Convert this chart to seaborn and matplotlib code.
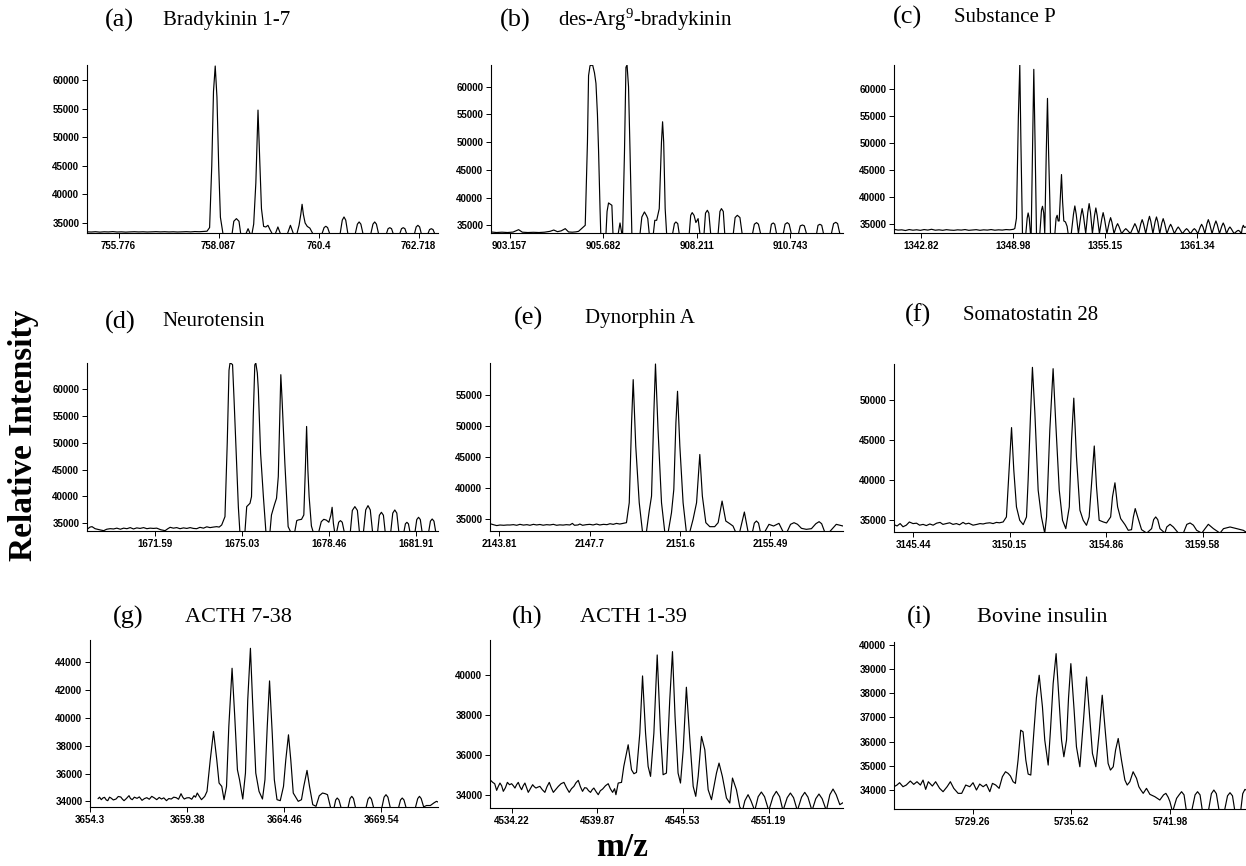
import matplotlib
matplotlib.use("Agg")
import matplotlib.pyplot as plt
import pandas as pd
import seaborn as sns

# ---------------- data (m/z, relative intensity) ----------------
trace_a = [(755.04,33450),(755.14,33420),(755.24,33470),(755.34,33400),(755.44,33460),(755.54,33430),
    (755.64,33490),(755.74,33420),(755.84,33450),(755.94,33400),(756.04,33440),(756.14,33470),(756.24,33430),
    (756.34,33460),(756.44,33420),(756.54,33450),(756.64,33480),(756.74,33440),(756.84,33470),(756.94,33430),
    (757.04,33460),(757.14,33420),(757.24,33450),(757.34,33480),(757.44,33440),(757.54,33500),(757.64,33470),
    (757.74,33520),(757.82,33560),
    (757.88,34200),(757.93,45000),(757.97,58000),(758.01,62450),(758.05,57000),(758.09,45000),(758.13,36000),(758.19,33100),
    (758.40,33100),(758.44,35300),(758.50,35760),(758.56,35300),(758.60,33100),
    (758.72,33100),(758.77,34000),(758.82,33100),
    (758.86,33100),(758.90,34800),(758.95,42000),(759.00,54740),(759.04,46000),(759.08,37500),(759.13,34400),
    (759.18,34300),(759.23,34590),(759.28,33800),(759.33,33100),
    (759.40,33100),(759.46,34300),(759.52,33100),
    (759.68,33100),(759.75,34590),(759.82,33100),
    (759.90,33100),(759.95,34600),(759.99,36500),(760.02,38270),(760.05,36500),(760.09,35000),(760.14,34400),(760.20,34100),(760.27,33100),
    (760.48,33100),(760.53,34200),(760.57,34420),(760.61,34200),(760.66,33100),
    (760.90,33100),(760.95,35500),(760.99,36050),(761.03,35500),(761.08,33100),
    (761.25,33100),(761.30,34800),(761.34,35180),(761.38,34800),(761.43,33100),
    (761.61,33100),(761.66,34800),(761.70,35180),(761.74,34800),(761.79,33100),
    (761.97,33100),(762.01,34000),(762.05,34180),(762.09,34000),(762.13,33100),
    (762.28,33100),(762.32,34000),(762.36,34180),(762.40,34000),(762.44,33100),
    (762.62,33100),(762.66,34300),(762.70,34590),(762.74,34300),(762.78,33100),
    (762.93,33100),(762.97,33850),(763.01,34000),(763.05,33850),(763.09,33100)]

trace_b = [(902.66,33800),(902.80,33700),(902.95,33760),(903.10,33700),(903.25,33780),(903.40,34217),(903.50,33760),
    (903.65,33700),(903.80,33740),(903.95,33700),(904.10,33760),(904.25,33916),(904.35,34150),(904.45,33850),
    (904.55,34000),(904.66,34398),(904.75,33800),(904.85,33760),(904.95,33820),(905.02,33916),(905.10,34400),(905.20,35000),
    (905.26,50000),(905.29,62000),(905.33,63800),(905.40,63915),(905.45,62500),(905.49,60600),(905.53,55000),(905.56,48550),(905.60,38000),(905.62,33450),
    (905.76,33450),(905.79,37500),(905.83,39036),(905.88,38800),(905.92,38614),(905.95,33450),
    (906.09,33450),(906.14,35422),(906.19,33450),
    (906.21,33450),(906.26,48000),(906.30,63500),(906.33,63915),(906.37,60000),(906.41,48554),(906.46,33450),
    (906.68,33450),(906.73,36500),(906.80,37410),(906.86,36700),(906.89,36205),(906.93,33450),
    (907.04,33450),(907.08,35904),(907.13,35904),(907.20,38000),(907.26,50000),(907.29,53674),(907.32,50000),(907.36,38000),(907.40,33450),
    (907.56,33450),(907.61,35300),(907.65,35602),(907.70,35300),(907.74,33450),
    (908.01,33450),(908.05,36800),(908.09,37289),(908.14,36800),(908.19,35500),(908.25,36205),(908.30,33450),
    (908.41,33450),(908.45,37200),(908.50,37711),(908.54,37200),(908.59,33450),
    (908.79,33450),(908.84,37500),(908.88,38012),(908.93,37500),(908.97,33450),
    (909.20,33450),(909.25,36400),(909.31,36807),(909.38,36400),(909.44,33450),
    (909.72,33450),(909.77,35200),(909.83,35482),(909.88,35200),(909.94,33450),
    (910.19,33450),(910.23,35200),(910.28,35422),(910.32,35200),(910.37,33450),
    (910.55,33450),(910.60,35200),(910.66,35482),(910.71,35200),(910.77,33450),
    (910.96,33450),(911.01,34900),(911.07,35060),(911.12,34900),(911.18,33450),
    (911.45,33450),(911.49,35000),(911.54,35181),(911.59,35000),(911.64,33450),
    (911.85,33450),(911.91,35300),(911.97,35542),(912.02,35300),(912.08,33450),(912.16,33450)]

trace_c = [(1340.98,33943),(1341.25,33800),(1341.50,33850),(1341.75,33720),(1342.00,33900),(1342.25,33780),
    (1342.50,33860),(1342.75,33750),(1343.00,33900),(1343.25,33800),(1343.50,33950),(1343.75,33780),(1344.00,33850),
    (1344.25,33760),(1344.50,33880),(1344.75,33800),(1345.00,33760),(1345.25,33850),(1345.50,33800),(1345.75,33900),
    (1346.00,33760),(1346.25,33820),(1346.50,33880),(1346.75,33760),(1347.00,33850),(1347.25,33800),(1347.50,33900),
    (1347.75,33780),(1348.00,33850),(1348.25,33800),(1348.50,33900),(1348.75,33850),(1349.00,33950),(1349.09,34100),
    (1349.20,36000),(1349.33,55000),(1349.425,64540),(1349.50,50000),(1349.604,33150),
    (1349.83,33150),(1349.92,36000),(1349.985,36990),(1350.06,36000),(1350.14,33150),
    (1350.19,33150),(1350.30,52000),(1350.365,63730),(1350.45,50000),(1350.545,33150),
    (1350.77,33150),(1350.88,37500),(1350.948,38234),(1351.03,37000),(1351.10,33150),
    (1351.20,48000),(1351.283,58321),(1351.36,48000),(1351.44,39353),(1351.485,33150),
    (1351.78,33150),(1351.86,36000),(1351.933,36555),(1352.00,35500),(1352.067,35500),(1352.15,40000),(1352.224,44142),
    (1352.30,39000),(1352.38,35500),(1352.49,35311),(1352.60,34500),(1352.67,33150),
    (1352.88,33150),(1353.03,36790),(1353.12,38296),(1353.21,36790),
    (1353.36,33150),(1353.52,36440),(1353.61,37799),(1353.70,36440),
    (1353.85,33150),(1353.99,37090),(1354.08,38731),(1354.17,37090),
    (1354.30,33150),(1354.44,36520),(1354.53,37923),(1354.62,36520),
    (1354.77,33150),(1354.93,35910),(1355.02,37052),(1355.11,35910),
    (1355.27,33150),(1355.43,35260),(1355.52,36119),(1355.61,35260),
    (1355.75,33150),(1355.90,34480),(1355.99,35000),(1356.08,34480),
    (1356.26,33150),(1356.45,33830),(1356.54,34067),(1356.63,33830),
    (1356.85,33150),(1357.06,34480),(1357.15,35000),(1357.24,34480),
    (1357.40,33150),(1357.55,35000),(1357.64,35746),(1357.73,35000),
    (1357.88,33150),(1358.04,35430),(1358.13,36368),(1358.22,35430),
    (1358.36,33150),(1358.51,35350),(1358.60,36244),(1358.69,35350),
    (1358.82,33150),(1358.96,35130),(1359.05,35933),(1359.14,35130),
    (1359.30,33150),(1359.46,34390),(1359.55,34876),(1359.64,34390),
    (1359.80,33150),(1359.97,34040),(1360.06,34378),(1360.15,34040),
    (1360.34,33150),(1360.53,33830),(1360.62,34067),(1360.71,33830),
    (1360.88,33150),(1361.05,33830),(1361.14,34067),(1361.23,33830),
    (1361.38,33150),(1361.54,34390),(1361.63,34876),(1361.72,34390),
    (1361.85,33150),(1361.99,35000),(1362.08,35746),(1362.17,35000),
    (1362.33,33150),(1362.50,34830),(1362.59,35498),(1362.68,34830),
    (1362.83,33150),(1362.99,34570),(1363.08,35124),(1363.17,34570),
    (1363.30,33150),(1363.44,34040),(1363.53,34378),(1363.62,34040),
    (1363.81,33150),(1364.00,33610),(1364.09,33756),(1364.18,33610),
    (1364.30,33150),(1364.36,34200),(1364.43,34689),(1364.50,34300),(1364.61,34400)]

trace_d = [(1668.88,33881),(1669.00,34300),(1669.08,34378),(1669.20,34000),(1669.30,33881),(1669.42,33750),
    (1669.54,33632),(1669.66,33900),(1669.80,34005),(1669.93,33950),(1670.06,34100),(1670.20,33900),(1670.33,34100),
    (1670.46,34000),(1670.59,34200),(1670.72,33950),(1670.85,34150),(1670.98,34050),(1671.12,34200),(1671.25,34000),
    (1671.38,34100),(1671.51,34050),(1671.64,34100),(1671.80,33800),(1671.97,33632),(1672.08,34000),(1672.17,34254),
    (1672.30,34100),(1672.43,34200),(1672.56,34000),(1672.70,34150),(1672.83,34050),(1672.96,34200),(1673.09,34050),
    (1673.22,34000),(1673.35,34250),(1673.49,34100),(1673.62,34350),(1673.75,34200),(1673.88,34300),(1674.01,34378),
    (1674.11,34300),(1674.21,34689),
    (1674.34,36244),(1674.43,50000),(1674.50,63500),(1674.54,64851),(1674.60,64700),(1674.64,64540),(1674.70,58000),
    (1674.80,46194),(1674.87,38000),(1674.93,33400),
    (1675.13,33400),(1675.20,38110),(1675.33,38731),(1675.39,39975),(1675.46,55000),(1675.52,64500),(1675.56,64851),
    (1675.62,63000),(1675.66,59876),(1675.75,48000),(1675.86,39975),(1675.96,33400),
    (1676.12,33400),(1676.18,36555),(1676.30,38500),(1676.38,39664),(1676.45,43707),(1676.51,55000),(1676.55,62675),
    (1676.60,58000),(1676.71,46194),(1676.84,34378),(1676.94,33400),
    (1677.10,33400),(1677.18,35500),(1677.24,35622),(1677.37,35746),(1677.46,36555),(1677.52,45000),(1677.57,53035),
    (1677.62,45000),(1677.67,39975),(1677.76,34500),(1677.83,33400),
    (1678.05,33400),(1678.15,35300),(1678.25,35746),(1678.35,35600),(1678.45,35200),(1678.53,36500),(1678.58,37985),
    (1678.63,35000),(1678.68,33400),
    (1678.76,33400),(1678.84,35200),(1678.91,35498),(1678.98,35200),(1679.06,33400),
    (1679.30,33400),(1679.38,37400),(1679.48,38110),(1679.58,37400),(1679.66,33400),
    (1679.82,33400),(1679.91,37500),(1680.00,38296),(1680.09,37500),(1680.18,33400),
    (1680.38,33400),(1680.45,36500),(1680.53,37052),(1680.61,36500),(1680.68,33400),
    (1680.90,33400),(1680.98,36900),(1681.06,37488),(1681.14,36900),(1681.22,33400),
    (1681.42,33400),(1681.48,34900),(1681.54,35187),(1681.60,34900),(1681.66,33400),
    (1681.86,33400),(1681.93,35700),(1682.00,36119),(1682.07,35700),(1682.14,33400),
    (1682.40,33400),(1682.47,35400),(1682.54,35808),(1682.61,35400),(1682.68,33400),(1682.77,33400)]

trace_e = [(2143.41,34307),(2143.55,34150),(2143.70,34000),(2143.84,34093),(2144.00,34050),(2144.15,34100),
    (2144.27,34093),(2144.42,34150),(2144.56,34050),(2144.70,34200),(2144.85,34080),(2145.00,34150),(2145.13,34050),
    (2145.28,34200),(2145.42,34100),(2145.56,34180),(2145.70,34060),(2145.85,34150),(2145.99,34100),(2146.14,34200),
    (2146.28,34050),(2146.42,34120),(2146.56,34080),(2146.70,34150),(2146.85,34100),(2146.96,34350),(2147.05,34050),
    (2147.20,34100),(2147.28,34250),(2147.40,34050),(2147.56,34150),(2147.71,34200),(2147.85,34100),(2148.00,34250),
    (2148.14,34100),(2148.30,34200),(2148.45,34150),(2148.58,34300),(2148.72,34200),(2148.86,34350),(2149.00,34250),
    (2149.08,34307),(2149.20,34400),(2149.29,34467),
    (2149.41,37667),(2149.51,50466),(2149.58,57399),(2149.69,46733),(2149.84,37667),(2149.98,33000),
    (2150.15,33000),(2150.27,36333),(2150.37,38733),(2150.47,52066),(2150.54,59905),(2150.65,49399),(2150.80,37667),(2150.94,33000),
    (2151.09,33000),(2151.23,36067),(2151.33,39800),(2151.42,50466),(2151.49,55532),(2151.59,46733),(2151.73,37667),(2151.87,33000),
    (2152.02,33000),(2152.16,35000),(2152.31,37667),(2152.45,45400),(2152.56,38733),(2152.71,34467),(2152.88,33827),(2153.09,33827),
    (2153.24,34467),(2153.41,37933),(2153.57,34733),(2153.74,34307),(2153.88,33933),(2153.99,33000),
    (2154.17,33000),(2154.37,36173),(2154.53,33000),
    (2154.72,33000),(2154.80,34400),(2154.89,34733),(2154.98,34400),(2155.06,33000),
    (2155.25,33000),(2155.43,34200),(2155.63,33933),(2155.86,34360),(2156.04,33000),
    (2156.21,33000),(2156.36,34200),(2156.51,34467),(2156.66,34200),(2156.83,33560),(2157.04,33400),(2157.26,33507),
    (2157.45,34300),(2157.59,34627),(2157.70,34300),(2157.83,33000),(2158.04,33000),(2158.33,34200),(2158.62,33933)]

trace_f = [(3144.50,34368),(3144.65,34200),(3144.80,34500),(3144.94,34100),(3145.10,34300),(3145.25,34700),
    (3145.43,34500),(3145.60,34550),(3145.75,34300),(3145.92,34400),(3146.08,34250),(3146.25,34450),(3146.41,34300),
    (3146.58,34550),(3146.75,34650),(3146.89,34400),(3147.05,34500),(3147.22,34600),(3147.38,34400),(3147.55,34500),
    (3147.70,34350),(3147.87,34650),(3148.00,34450),(3148.15,34550),(3148.36,34300),(3148.55,34400),(3148.70,34500),
    (3148.85,34450),(3149.00,34550),(3149.18,34600),(3149.34,34500),(3149.50,34650),(3149.65,34600),(3149.83,34705),
    (3149.99,35337),(3150.12,41235),(3150.24,46586),(3150.35,41235),(3150.48,36601),(3150.64,34916),(3150.81,34368),(3150.97,35337),
    (3151.05,39971),(3151.17,48397),(3151.26,54169),(3151.38,48397),(3151.54,38707),(3151.70,35337),(3151.86,33300),
    (3151.95,35337),(3152.11,46291),(3152.27,54001),(3152.40,47133),(3152.57,38707),(3152.73,34916),(3152.89,33862),
    (3153.06,36601),(3153.17,45027),(3153.28,50293),(3153.41,42920),(3153.58,36180),(3153.74,34916),(3153.90,34284),
    (3154.03,35337),(3154.16,39971),(3154.28,44269),(3154.39,39129),(3154.52,34916),(3154.72,34705),(3154.88,34579),
    (3155.08,35337),(3155.17,37865),(3155.29,39634),(3155.42,36601),(3155.57,35126),(3155.78,34368),(3155.94,33652),(3156.10,33736),
    (3156.19,35337),(3156.28,36390),(3156.40,35337),(3156.59,33736),(3156.84,33300),
    (3157.08,33862),(3157.18,35000),(3157.28,35337),(3157.38,35000),(3157.49,33862),(3157.73,33300),
    (3157.82,34073),(3157.98,34410),(3158.14,34073),(3158.39,33300),
    (3158.63,33300),(3158.80,34400),(3158.96,34579),(3159.12,34300),(3159.28,33652),(3159.53,33300),
    (3159.69,33862),(3159.85,34410),(3160.10,33862),(3160.42,33300),
    (3160.59,33862),(3160.91,34073),(3161.24,33862),(3161.56,33652),(3161.69,33441)]

trace_g = [(3654.72,34191),(3654.80,34300),(3654.89,34120),(3654.98,34250),(3655.06,34287),(3655.15,34100),
    (3655.23,34048),(3655.32,34300),(3655.40,34239),(3655.52,34100),(3655.66,34167),(3655.78,34350),(3655.91,34311),
    (3656.00,34150),(3656.08,34048),(3656.20,34200),(3656.34,34407),(3656.42,34200),(3656.51,34120),(3656.62,34300),
    (3656.76,34215),(3656.88,34320),(3657.02,34072),(3657.15,34200),(3657.27,34263),(3657.40,34150),(3657.53,34359),
    (3657.66,34250),(3657.79,34120),(3657.92,34280),(3658.04,34167),(3658.16,34250),(3658.30,34048),(3658.42,34200),
    (3658.55,34167),(3658.68,34300),(3658.81,34263),(3658.93,34150),(3659.06,34550),(3659.15,34300),(3659.23,34167),
    (3659.36,34250),(3659.49,34263),(3659.62,34150),(3659.74,34407),(3659.82,34300),(3659.91,34598),(3660.02,34350),
    (3660.13,34120),(3660.22,34250),(3660.30,34359),
    (3660.42,34718),(3660.59,36990),(3660.76,39023),(3660.93,36990),(3661.05,35316),(3661.19,35076),(3661.31,34120),
    (3661.44,35076),(3661.56,39382),(3661.73,43568),(3661.87,40100),(3662.01,36272),(3662.12,35555),(3662.29,34167),
    (3662.43,36033),(3662.55,41296),(3662.69,45003),(3662.80,41296),(3662.97,36033),(3663.14,34718),(3663.32,34167),
    (3663.45,35555),(3663.57,39382),(3663.69,42659),(3663.83,38904),(3663.94,35555),(3664.08,34120),(3664.25,34048),
    (3664.42,35076),(3664.54,36990),(3664.68,38784),(3664.80,36990),(3664.93,34598),(3665.19,34000),
    (3665.36,34120),(3665.48,35076),(3665.65,36225),(3665.78,35076),(3665.95,33761),(3666.12,33641),
    (3666.29,34400),(3666.46,34598),(3666.60,34550),(3666.72,34478),(3666.90,33450),
    (3667.05,33450),(3667.15,34100),(3667.23,34239),(3667.32,34100),(3667.45,33450),
    (3667.78,33450),(3667.90,34200),(3667.99,34359),(3668.08,34200),(3668.20,33450),
    (3668.72,33450),(3668.84,34150),(3668.93,34311),(3669.02,34150),(3669.15,33450),
    (3669.55,33450),(3669.68,34300),(3669.78,34478),(3669.88,34300),(3670.02,33450),
    (3670.42,33450),(3670.54,34100),(3670.63,34239),(3670.72,34100),(3670.85,33450),
    (3671.30,33450),(3671.44,34200),(3671.53,34359),(3671.62,34200),(3671.75,33600),(3671.90,33700),(3672.10,33700),
    (3672.30,33900),(3672.42,34000),(3672.50,33950)]

trace_h = [(4532.76,34750),(4532.94,34617),(4533.07,34550),(4533.20,34217),(4533.30,34400),(4533.42,34583),
    (4533.53,34450),(4533.64,34167),(4533.78,34350),(4533.91,34617),(4534.05,34500),(4534.19,34550),(4534.30,34450),
    (4534.41,34333),(4534.52,34500),(4534.63,34617),(4534.74,34400),(4534.85,34250),(4534.96,34450),(4535.07,34583),
    (4535.18,34350),(4535.29,34117),(4535.43,34300),(4535.58,34500),(4535.69,34400),(4535.80,34333),(4535.93,34380),
    (4536.06,34417),(4536.22,34250),(4536.39,34117),(4536.53,34400),(4536.68,34617),(4536.81,34350),(4536.95,34117),
    (4537.10,34250),(4537.28,34417),(4537.46,34550),(4537.65,34617),(4537.82,34350),(4538.00,34117),(4538.15,34300),
    (4538.31,34417),(4538.45,34600),(4538.60,34717),(4538.74,34400),(4538.88,34167),(4539.02,34350),(4539.15,34333),
    (4539.28,34200),(4539.41,34117),(4539.52,34250),(4539.63,34333),(4539.78,34150),(4539.92,34000),(4540.06,34200),
    (4540.21,34283),(4540.40,34450),(4540.58,34550),(4540.72,34300),(4540.87,34117),(4541.00,34300),(4541.09,34000),
    (4541.24,34583),(4541.46,34617),(4541.61,35417),(4541.90,36500),(4542.12,35250),(4542.28,35050),(4542.45,35117),
    (4542.67,37083),(4542.85,39950),(4543.05,37083),(4543.22,35417),(4543.38,34917),(4543.60,37083),(4543.82,41000),
    (4544.04,37083),(4544.21,35000),(4544.43,35083),(4544.65,38750),(4544.83,41167),(4545.00,37917),(4545.20,35083),
    (4545.36,34583),(4545.54,36250),(4545.75,39383),(4545.98,36750),(4546.20,34417),(4546.37,33917),(4546.53,34917),
    (4546.75,36917),(4546.97,36250),(4547.19,34250),(4547.41,33750),(4547.74,35083),(4547.91,35583),(4548.13,34917),
    (4548.40,33833),(4548.62,33583),(4548.80,34833),(4549.06,34250),(4549.28,33383),(4549.46,33200),
    (4549.62,33700),(4549.83,34000),(4550.02,33700),(4550.27,33200),
    (4550.50,33900),(4550.71,34133),(4550.92,33900),(4551.20,33200),
    (4551.48,33900),(4551.70,34167),(4551.92,33900),(4552.14,33200),
    (4552.42,33850),(4552.63,34083),(4552.84,33850),(4553.09,33200),
    (4553.37,33880),(4553.58,34117),(4553.79,33880),(4554.06,33200),
    (4554.31,33800),(4554.52,34033),(4554.73,33800),(4555.01,33200),
    (4555.24,34000),(4555.45,34283),(4555.66,34000),(4555.90,33500),(4556.11,33600)]

trace_i = [(5724.19,34137),(5724.38,34206),(5724.55,34302),(5724.77,34137),(5724.98,34206),(5725.24,34371),
    (5725.46,34233),(5725.67,34343),(5725.89,34206),(5726.06,34412),(5726.23,34027),(5726.40,34343),(5726.66,34165),
    (5726.87,34343),(5727.13,34069),(5727.35,33931),(5727.61,34137),(5727.82,34343),(5728.04,34069),(5728.32,33863),
    (5728.55,33863),(5728.81,34206),(5729.07,34137),(5729.28,34302),(5729.50,34000),(5729.71,34247),(5729.93,34137),
    (5730.14,34233),(5730.36,33931),(5730.53,34275),(5730.74,34206),(5730.96,34069),(5731.17,34549),(5731.37,34755),
    (5731.54,34687),(5731.69,34577),(5731.86,34343),(5732.01,34275),(5732.18,35236),(5732.35,36471),(5732.50,36403),
    (5732.68,35236),(5732.83,34659),(5733.00,34618),(5733.19,36334),(5733.36,37800),(5733.54,38737),(5733.75,37433),
    (5733.90,36060),(5734.12,35030),(5734.27,36500),(5734.44,38394),(5734.63,39629),(5734.82,37707),(5734.98,36060),
    (5735.13,35373),(5735.30,36060),(5735.43,37800),(5735.58,39217),(5735.79,37295),(5735.94,35785),(5736.16,34961),
    (5736.41,37021),(5736.59,38668),(5736.76,37295),(5736.97,35510),(5737.19,34961),(5737.40,36334),(5737.60,37913),
    (5737.81,36334),(5737.98,35098),(5738.13,34824),(5738.31,34961),(5738.46,35648),(5738.63,36128),(5738.84,35236),
    (5739.06,34412),(5739.21,34206),(5739.38,34343),(5739.59,34755),(5739.81,34481),(5739.96,34137),(5740.09,34000),
    (5740.24,33863),(5740.45,34069),(5740.67,33822),(5740.99,33725),(5741.31,33588),(5741.55,33800),(5741.70,33863),
    (5741.85,33700),(5741.96,33519),(5742.13,33100),(5742.39,33657),(5742.55,33800),(5742.71,33931),(5742.87,33800),
    (5743.03,33100),(5743.35,33100),(5743.58,33800),(5743.74,33931),(5743.90,33800),(5744.06,33100),(5744.43,33100),
    (5744.63,33850),(5744.79,34000),(5744.95,33850),(5745.14,33100),(5745.46,33100),(5745.67,33760),(5745.83,33890),
    (5745.99,33760),(5746.15,33100),(5746.51,33100),(5746.65,33850),(5746.79,34027),(5746.87,34000)]

tags = ["(a)", "(b)", "(c)", "(d)", "(e)", "(f)", "(g)", "(h)", "(i)"]
names = ["Bradykinin 1-7", "des-Arg$^{9}$-bradykinin", "Substance P", "Neurotensin", "Dynorphin A",
         "Somatostatin 28", "ACTH 7-38", "ACTH 1-39", "Bovine insulin"]
traces = [trace_a, trace_b, trace_c, trace_d, trace_e, trace_f, trace_g, trace_h, trace_i]

xtick_labels = [["755.776", "758.087", "760.4", "762.718"],
                ["903.157", "905.682", "908.211", "910.743"],
                ["1342.82", "1348.98", "1355.15", "1361.34"],
                ["1671.59", "1675.03", "1678.46", "1681.91"],
                ["2143.81", "2147.7", "2151.6", "2155.49"],
                ["3145.44", "3150.15", "3154.86", "3159.58"],
                ["3654.3", "3659.38", "3664.46", "3669.54"],
                ["4534.22", "4539.87", "4545.53", "4551.19"],
                ["5729.26", "5735.62", "5741.98"]]
ytick_values = [[35000, 40000, 45000, 50000, 55000, 60000],
                [35000, 40000, 45000, 50000, 55000, 60000],
                [35000, 40000, 45000, 50000, 55000, 60000],
                [35000, 40000, 45000, 50000, 55000, 60000],
                [35000, 40000, 45000, 50000, 55000],
                [35000, 40000, 45000, 50000],
                [34000, 36000, 38000, 40000, 42000, 44000],
                [34000, 36000, 38000, 40000],
                [34000, 35000, 36000, 37000, 38000, 39000, 40000]]

# ---------------- layout ----------------
W, H = 1246, 866
# axes boxes in pixels: left, right, top, bottom
boxes = [(87, 438, 65, 233), (491, 843, 65, 233), (894, 1246, 65, 233),
         (87, 438, 363, 531), (490, 843, 363, 531), (894, 1246, 364, 532),
         (90, 438, 640, 807), (490, 843, 640, 808), (894, 1246, 642, 809)]
xlims = [(755.043, 763.165), (902.654, 912.165), (1340.98, 1364.61),
         (1668.88, 1682.77), (2143.41, 2158.62), (3144.50, 3161.69),
         (3654.72, 3672.50), (4532.76, 4556.11), (5724.19, 5746.86)]
ylims = [(33248, 62628), (33614, 63915), (33259, 64540),
         (33570, 64851), (33133, 60067), (33441, 54592),
         (33593, 45601), (33333, 41750), (33217, 40110)]
# title positions: x of tag, x of name, y centre (pixels)
title_pos = [(105, 163, 20), (500, 558, 20), (893, 954, 17),
             (105, 162, 322), (514, 585, 318), (905, 963, 315),
             (113, 185, 617), (512, 580, 617), (907, 977, 617)]

sns.set_theme(style="ticks")
plt.rcParams["font.family"] = ["Liberation Sans", "DejaVu Sans"]
plt.rcParams["mathtext.fontset"] = "custom"
plt.rcParams["mathtext.rm"] = "Liberation Serif"
plt.rcParams["mathtext.it"] = "Liberation Serif"
plt.rcParams["text.color"] = "black"
plt.rcParams["axes.labelcolor"] = "black"
plt.rcParams["xtick.color"] = "black"
plt.rcParams["ytick.color"] = "black"

fig = plt.figure(figsize=(W / 100, H / 100), dpi=100)
fig.patch.set_facecolor("white")

serif = "Liberation Serif"
for k in range(9):
    l, r, t, b = boxes[k]
    ax = fig.add_axes([l / W, 1 - b / H, (r - l) / W, (b - t) / H])
    ax.set_facecolor("white")
    mz, inten = zip(*traces[k])
    df = pd.DataFrame({"mz": mz, "intensity": inten})
    sns.lineplot(data=df, x="mz", y="intensity", sort=False, estimator=None,
                 color="black", linewidth=0.85, ax=ax)
    ax.set_xlim(*xlims[k])
    ax.set_ylim(*ylims[k])
    ax.set_xlabel("")
    ax.set_ylabel("")
    for s in ["top", "right"]:
        ax.spines[s].set_visible(False)
    for s in ["left", "bottom"]:
        ax.spines[s].set_color("black")
        ax.spines[s].set_linewidth(0.8)
    xl = xtick_labels[k]
    ax.set_xticks([float(v) for v in xl], labels=xl)
    yv = ytick_values[k]
    ax.set_yticks(yv, labels=[str(v) for v in yv])
    ax.tick_params(axis="both", direction="out", length=3.5, width=0.7, colors="black",
                   labelsize=7, pad=2)
    for lab in ax.get_xticklabels() + ax.get_yticklabels():
        lab.set_fontweight("bold")
        lab.set_color("black")
    ax.grid(False)

    tx, nx, ty = title_pos[k]
    name_size = 16 if k >= 6 else 15
    fig.text(tx / W, 1 - ty / H, tags[k], fontsize=19, family=serif, va="center", ha="left",
             color="black")
    fig.text(nx / W, 1 - ty / H, names[k], fontsize=name_size, family=serif, va="center",
             ha="left", color="black")

fig.text(24 / W, 1 - 435 / H, "Relative Intensity", rotation=90, fontsize=24, fontweight="bold",
         family=serif, va="center", ha="center", color="black")
fig.text(622 / W, 1 - 848 / H, "m/z", fontsize=24, fontweight="bold", family=serif,
         va="center", ha="center", color="black")

fig.savefig("out.png", dpi=100, facecolor="white")
